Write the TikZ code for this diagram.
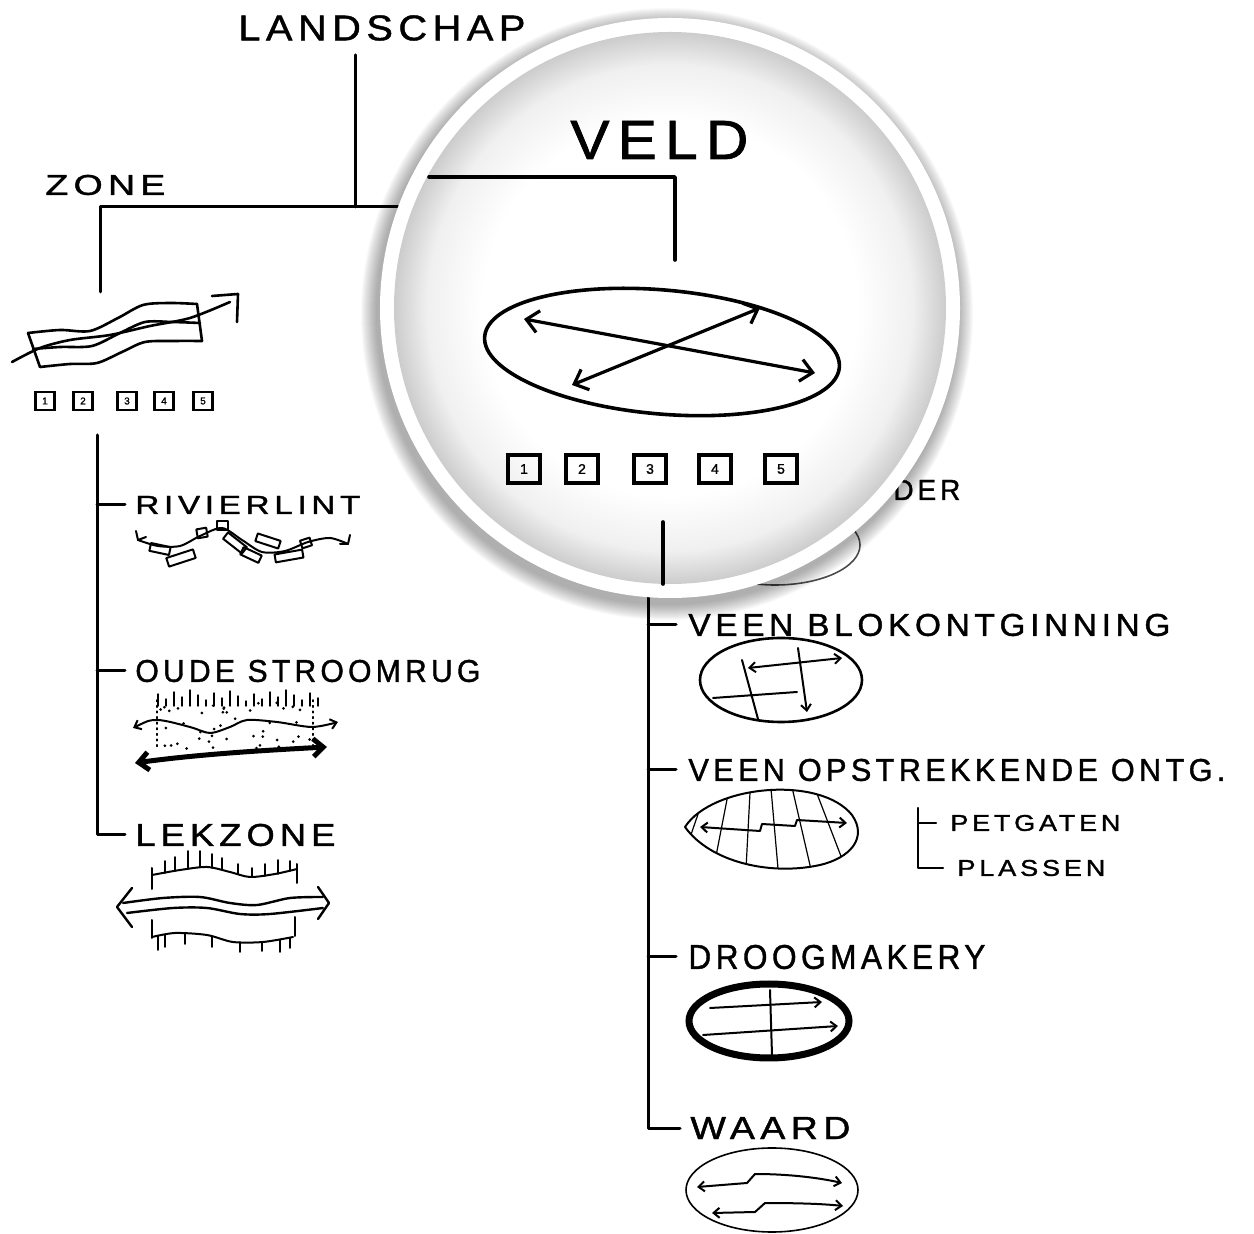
\documentclass[tikz,border=0pt]{standalone}
\usepackage{fontspec}
\usepackage{graphicx}
\usetikzlibrary{arrows.meta}
\newfontfamily\hand{Liberation Sans}[LetterSpace=14,FakeBold=1.2]
\newdimen\pxu \pxu=0.5pt
\newcommand\hw[3]{\resizebox{#1\pxu}{#2\pxu}{\hand #3}}
\pgfdeclareradialshading{lensglow}{\pgfpoint{0bp}{0bp}}{color(0bp)=(white); color(17bp)=(white); color(22bp)=(black!6); color(25bp)=(black!20); color(50bp)=(black!20)}

\begin{document}
\begin{tikzpicture}[x=0.5pt,y=-0.5pt,
  lbl/.style={anchor=west,inner sep=0pt},
  stem/.style={line width=1.5pt,line cap=round,line join=round},
  sk/.style={line width=1pt,line cap=round,line join=round},
  numbox/.style={draw,line width=1.2pt,inner sep=0pt,minimum width=9.5pt,minimum height=9pt,font=\hand\fontsize{5}{5}\selectfont},
  bignum/.style={draw,line width=1.6pt,inner sep=0pt,minimum width=16pt,minimum height=14pt,font=\hand\fontsize{7}{7}\selectfont},
  >={Straight Barb[length=3pt,width=5pt]}]
\useasboundingbox (0,0) rectangle (1254,1234);

% landschap en zone
\node[lbl] (landschap) at (238,28) {\hw{287}{25}{LANDSCHAP}};
\node[lbl] (zone) at (45,185) {\hw{120}{20}{ZONE}};
\coordinate (split) at (355,207);
\coordinate (zonefoot) at (100,292);
\coordinate (veldjoin) at (398,207);
\draw[stem] (355,55) -- (split);
\draw[stem] (zonefoot) |- (veldjoin);

% zone icoon
\draw[sk,line width=1.3pt] plot[smooth] coordinates {(28,333) (60,330) (90,331) (118,318) (143,305) (170,303) (197,304)};
\draw[sk,line width=1.3pt] plot[smooth] coordinates {(33,349) (60,347) (92,346) (120,333) (145,322) (172,322) (200,323)};
\draw[sk,line width=1.3pt] plot[smooth] coordinates {(40,367) (70,364) (97,363) (122,352) (145,342) (175,341) (202,341)};
\draw[sk,line width=1.3pt] (28,333) -- (40,367) (197,304) -- (202,341);
\draw[sk,line width=1.3pt] plot[smooth] coordinates {(12,362) (40,348) (70,340) (110,335) (150,326) (190,318) (230,302)};
\draw[sk,line width=1.3pt] (212,296) -- (238,294) -- (237,322);
\foreach \n/\x in {1/45,2/83,3/127,4/164,5/203}
  \node[numbox] (zb\n) at (\x,401) {\n};

% zone takken
\coordinate (zonestem) at (97,435);
\node[lbl] (rivierlint) at (135,505) {\hw{225}{18}{RIVIERLINT}};
\node[lbl] (stroomrug) at (135,671) {\hw{345}{22}{OUDE STROOMRUG}};
\node[lbl] (lekzone) at (135,835) {\hw{200}{22}{LEKZONE}};
\draw[stem] (zonestem) |- ([xshift=-5pt]lekzone.west);
\draw[stem] (rivierlint.west -| zonestem) -- ([xshift=-5pt]rivierlint.west);
\draw[stem] (stroomrug.west -| zonestem) -- ([xshift=-5pt]stroomrug.west);

% rivierlint
\draw[sk] plot[smooth] coordinates {(138,540) (158,546) (180,546) (200,536) (222,528) (242,540) (262,552) (285,551) (308,542) (330,538) (348,544)};
\draw[sk] (136,531) -- (138,540) -- (146,537) (350,535) -- (348,544) -- (340,544);
\foreach \x/\y/\a/\w/\h in {160/549/-12/20/8, 181/558/18/28/9, 202/533/10/10/9, 222/526/0/11/9, 235/543/-38/24/8, 251/555/-25/20/8, 268/541/-18/24/8, 289/556/10/28/8, 306/543/18/10/8}
  \draw[sk,rotate around={\a:(\x,\y)}] (\x-\w/2,\y-\h/2) rectangle (\x+\w/2,\y+\h/2);

% oude stroomrug
\draw[sk,<->] plot[smooth] coordinates {(133,728) (157,720) (190,727) (210,733) (230,727) (247,720) (277,722) (312,727) (338,722)};
\draw[line width=2.5pt,line cap=round,{Straight Barb[length=5pt,width=9pt]}-{Straight Barb[length=5pt,width=9pt]}] (135,763) .. controls (200,754) and (270,750) .. (327,747);
\draw[sk,line width=0.8pt,dotted] (157,700) -- (157,750) (313,700) -- (313,750);
\pgfmathsetseed{7}
\foreach \i in {1,...,45}{
  \pgfmathsetmacro\dx{160+rnd*152}
  \pgfmathsetmacro\dy{700+rnd*50}
  \fill (\dx,\dy) circle (1.5);
}
\foreach \x [count=\k] in {158,166,...,322}{
  \pgfmathsetmacro\h{5+mod(\k*7,12)}
  \draw[sk,line width=0.7pt] (\x,706) -- (\x,706-\h);
}

% lekzone
\draw[sk] plot[smooth] coordinates {(152,875) (180,870) (207,867) (230,872) (250,877) (275,874) (297,869)};
\draw[sk] (152,868) -- (152,889) (297,864) -- (297,883);
\foreach \x/\y/\h in {165/873/12,175/871/14,188/869/18,200/867/16,212/868/14,222/870/12,238/874/10,252/877/9,265/876/12,278/874/14,290/871/10}
  \draw[sk,line width=0.8pt] (\x,\y) -- (\x,\y-\h);
\draw[sk,line width=1.2pt] plot[smooth] coordinates {(123,903) (163,898) (200,897) (230,903) (257,905) (290,898) (323,897)};
\draw[sk,line width=1.2pt] plot[smooth] coordinates {(127,913) (173,908) (207,908) (240,914) (270,914) (323,908)};
\draw[sk,line width=1.2pt] (132,888) -- (117,907) -- (132,927) (318,887) -- (329,903) -- (318,919);
\draw[sk] (152,920) -- (152,938) (295,917) -- (295,936);
\draw[sk] plot[smooth] coordinates {(152,937) (175,933) (207,935) (233,942) (263,942) (293,937)};
\foreach \x/\y/\h in {158/936/14,165/935/12,185/934/10,212/937/10,240/942/10,262/942/9,280/940/12,290/938/10}
  \draw[sk,line width=0.8pt] (\x,\y) -- (\x,\y+\h);

% veld takken (buiten de lens)
\coordinate (veldstem) at (648,560);
\coordinate (veldfoot) at (648,1130);
\node[lbl] (polder) at (893,490) {\hw{67}{20}{DER}};
\draw[sk,line width=0.8pt,black!70] (775,545) ellipse [x radius=85, y radius=40];
\node[lbl] (blok) at (688,625) {\hw{482}{22}{VEEN BLOKONTGINNING}};
\node[lbl] (opstrek) at (688,770) {\hw{537}{22}{VEEN OPSTREKKENDE ONTG.}};
\node[lbl] (droog) at (688,957) {\hw{297}{24}{DROOGMAKERY}};
\node[lbl] (waard) at (690,1128) {\hw{160}{22}{WAARD}};
\node[lbl] (petgaten) at (950,823) {\hw{170}{16}{PETGATEN}};
\node[lbl] (plassen) at (957,868) {\hw{148}{16}{PLASSEN}};
\draw[stem] (veldstem) |- ([xshift=-5pt]waard.west);
\foreach \t in {blok,opstrek,droog}
  \draw[stem] (\t.west -| veldstem) -- ([xshift=-6pt]\t.west);
\coordinate (petstem) at (918,808);
\draw[sk,line width=1.2pt] (petstem) |- ([xshift=-7pt]plassen.west);
\draw[sk,line width=1.2pt] (petgaten.west -| petstem) -- ([xshift=-7pt]petgaten.west);

% blokontginning
\draw[sk,line width=1.3pt] (781,680) ellipse [x radius=81, y radius=42];
\draw[sk] (742,660) -- (758,719) (713,698) -- (797,692);
\draw[sk,<->] (748,668) -- (842,658);
\draw[sk,->] (798,648) -- (807,712);

% opstrekkende ontginning
\draw[sk] (685,827) .. controls (712,785) and (820,775) .. (852,815) .. controls (868,838) and (850,858) .. (820,865) .. controls (770,876) and (710,862) .. (685,827);
\begin{scope}
\clip (685,827) .. controls (712,785) and (820,775) .. (852,815) .. controls (868,838) and (850,858) .. (820,865) .. controls (770,876) and (710,862) .. (685,827);
\foreach \a in {45,53,...,141}
  \draw[sk,line width=0.6pt] (758,640) -- ++(\a:260);
\end{scope}
\draw[sk,<->] (700,827) -- (760,831) -- (762,824) -- (795,826) -- (797,820) -- (847,823);

% droogmakerij
\draw[line width=3.5pt] (769,1021) ellipse [x radius=80, y radius=37];
\draw[sk] (770,990) -- (772,1055);
\draw[sk,->] (710,1008) -- (822,1002);
\draw[sk,->] (703,1035) -- (838,1026);

% waard
\draw[sk,line width=0.8pt] (772,1190) ellipse [x radius=86, y radius=42];
\draw[sk,<->] (697,1187) -- (747,1183) -- (755,1174) .. controls (790,1174) and (820,1178) .. (842,1183);
\draw[sk,<->] (712,1213) -- (755,1212) -- (765,1203) .. controls (800,1203) and (825,1204) .. (843,1206);

% lens
\foreach \i in {1,...,16}
  \fill[black,opacity=0.022] (667,314) circle (290+\i);
\fill[white] (670,308) circle (290);
\shade[shading=lensglow] (670,308) circle (276);

% veld in de lens
\node[lbl] (veld) at (570,140) {\hw{178}{38}{VELD}};
\coordinate (veldtop) at (675,260);
\draw[line width=1.8pt,line cap=round,line join=round] (429,177) -| (veldtop);
\draw[line width=1.8pt,rotate around={-5:(662,352)}] (662,352) ellipse [x radius=178, y radius=62];
\draw[line width=1.6pt,line cap=round,{Straight Barb[length=6pt,width=11pt]}-{Straight Barb[length=6pt,width=11pt]}] (524,319) -- (815,373);
\draw[line width=1.6pt,line cap=round,{Straight Barb[length=6pt,width=11pt]}-{Straight Barb[length=6pt,width=11pt]}] (572,385) -- (760,308);
\foreach \n/\x in {1/524,2/582,3/650,4/715,5/781}
  \node[bignum] (vb\n) at (\x,469) {\n};
\draw[line width=1.8pt,line cap=round] (663,522) -- (663,584);
\end{tikzpicture}
\end{document}
